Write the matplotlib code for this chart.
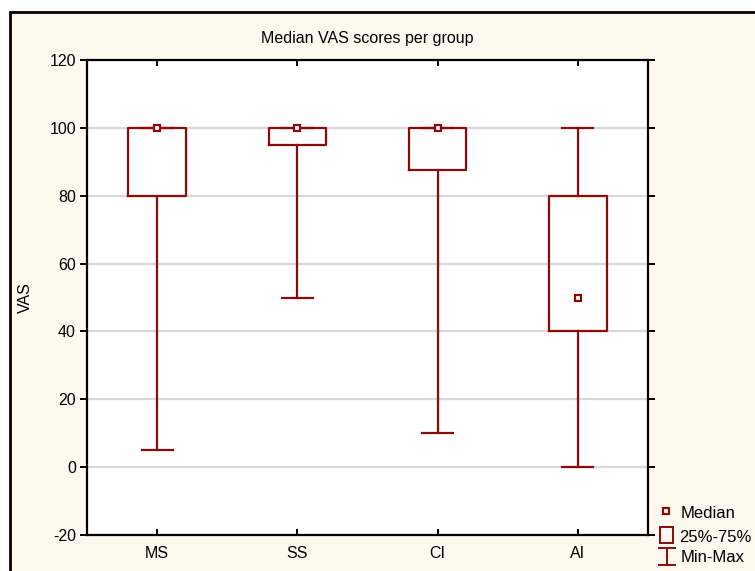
import matplotlib.pyplot as plt
from matplotlib.patches import Rectangle
from matplotlib.lines import Line2D

plt.rcParams['font.family'] = ['Liberation Sans', 'DejaVu Sans']
plt.rcParams['axes.unicode_minus'] = False

# Data
groups = ['MS', 'SS', 'CI', 'AI']
medians = [100, 100, 100, 50]
q1 = [80, 95, 87.5, 40]
q3 = [100, 100, 100, 80]
mins = [5, 50, 10, 0]
maxs = [100, 100, 100, 100]
yticks = [-20, 0, 20, 40, 60, 80, 100, 120]

red = '#8B0A0A'
cream = '#FEF9EE'

fig = plt.figure(figsize=(7.55, 5.71), dpi=100)
fig.patch.set_facecolor('white')

# cream panel with black border, running off the right/bottom edges
W, H = 755, 571
fig.patches.append(Rectangle((10 / W, -0.05), 1.2, 1 - 12 / H + 0.05,
                             transform=fig.transFigure, facecolor=cream,
                             edgecolor='black', linewidth=2, zorder=-5))

ax = fig.add_axes([87 / W, 1 - 535 / H, (648 - 87) / W, (535 - 60) / H])
ax.set_facecolor('white')
ax.set_zorder(1)

stats = []
for i, g in enumerate(groups):
    stats.append(dict(label=g, med=medians[i], q1=q1[i], q3=q3[i],
                      whislo=mins[i], whishi=maxs[i], fliers=[]))

pos = list(range(len(groups)))
ax.bxp(stats, positions=pos, widths=0.41, capwidths=0.22, showfliers=False,
       boxprops=dict(color=red, linewidth=1.6),
       whiskerprops=dict(color=red, linewidth=1.6),
       capprops=dict(color=red, linewidth=1.6),
       medianprops=dict(linestyle='none'), zorder=3)
ax.plot(pos, medians, linestyle='none', marker='s', markersize=5,
        markerfacecolor='white', markeredgecolor=red, markeredgewidth=1.6, zorder=4)

ax.set_xlim(-0.5, 3.5)
ax.set_ylim(-20, 120)
ax.set_yticks(yticks)
ax.set_xticks(pos)
ax.set_xticklabels(groups)
ax.yaxis.grid(True, color='#D9D9D9', linewidth=1.6, zorder=0)
ax.set_axisbelow(True)

for s in ax.spines.values():
    s.set_linewidth(1.6)
ax.tick_params(axis='y', which='both', direction='out', length=5, width=1.4,
               labelsize=11.5, right=True, pad=3)
ax.tick_params(axis='x', which='both', direction='in', length=4, width=1.4,
               labelsize=11.5, top=True, pad=8)
ax.set_ylabel('VAS', fontsize=11.5)
ax.yaxis.set_label_coords(-0.096, 0.5)
ax.set_title('Median VAS scores per group', fontsize=11.5, pad=12)

# legend drawn in figure pixels
def fx(x):
    return x / W

def fy(y):
    return 1 - y / H

fig.add_artist(Line2D([fx(666)], [fy(511)], marker='s', markersize=5,
                      markerfacecolor='white', markeredgecolor=red,
                      markeredgewidth=1.6, linestyle='none'))
fig.add_artist(Rectangle((fx(660), fy(543)), fx(673) - fx(660), fy(527) - fy(543),
                         transform=fig.transFigure, facecolor='none',
                         edgecolor=red, linewidth=1.4))
fig.add_artist(Line2D([fx(667), fx(667)], [fy(548), fy(565)], color=red, linewidth=1.4))
fig.add_artist(Line2D([fx(659), fx(675)], [fy(548), fy(548)], color=red, linewidth=1.4))
fig.add_artist(Line2D([fx(659), fx(675)], [fy(565), fy(565)], color=red, linewidth=1.4))
fig.text(fx(681), fy(513), 'Median', fontsize=12, va='center')
fig.text(fx(679), fy(537), '25%-75%', fontsize=12, va='center')
fig.text(fx(681), fy(557), 'Min-Max', fontsize=12, va='center')

fig.savefig('out.png', dpi=100)
